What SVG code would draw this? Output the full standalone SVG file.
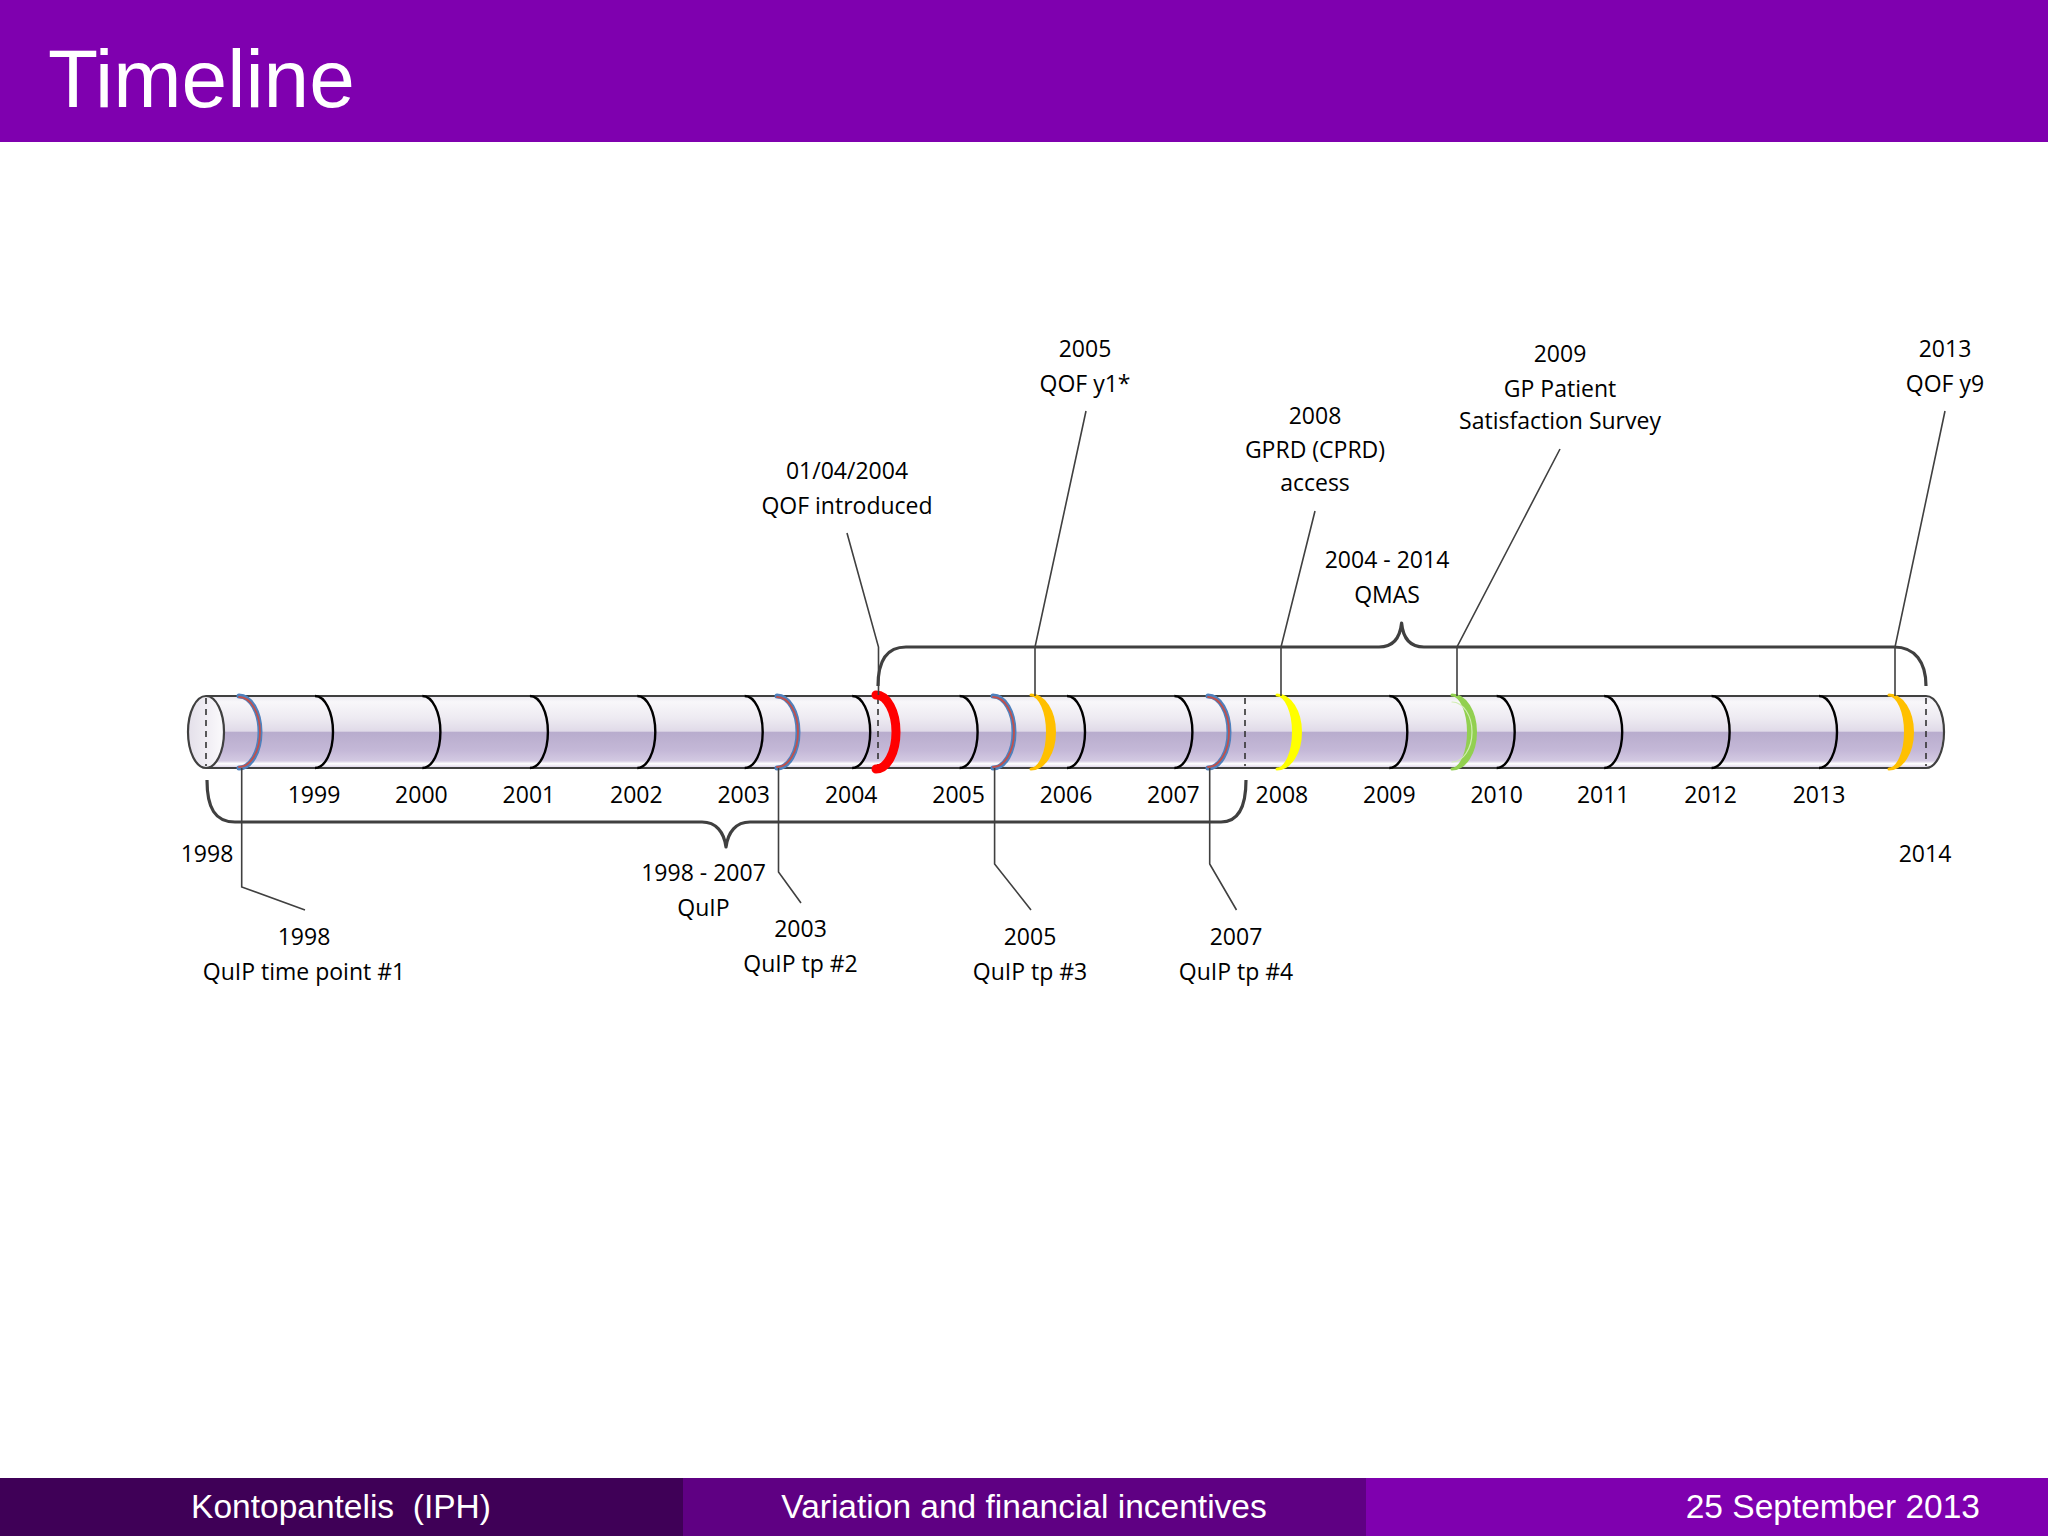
<svg xmlns="http://www.w3.org/2000/svg" width="2048" height="1536" viewBox="0 0 2048 1536">
<defs>
<linearGradient id="cyl" x1="0" y1="0" x2="0" y2="1">
<stop offset="0" stop-color="#E9E6EE"/>
<stop offset="0.08" stop-color="#F8F7FA"/>
<stop offset="0.3" stop-color="#EEEBF2"/>
<stop offset="0.49" stop-color="#E0DAE8"/>
<stop offset="0.5" stop-color="#B8ACCD"/>
<stop offset="0.75" stop-color="#C4B8D7"/>
<stop offset="0.9" stop-color="#D3C9E2"/>
<stop offset="0.94" stop-color="#FFFFFF"/>
<stop offset="1" stop-color="#D6CDE4"/>
</linearGradient>
<linearGradient id="cap" x1="0" y1="0" x2="1" y2="0">
<stop offset="0" stop-color="#E4E0EA"/>
<stop offset="1" stop-color="#FBFAFC"/>
</linearGradient>
<style>
text{font-family:"Open Sans","Liberation Sans",sans-serif;font-size:23px;fill:#000;text-anchor:middle}
.foot{font-family:"Liberation Sans",Arial,sans-serif;font-size:33.5px;fill:#fff}
.lead{fill:none;stroke:#404040;stroke-width:1.6}
.brace{fill:none;stroke:#404040;stroke-width:3.2;stroke-linejoin:round}
.yarc{fill:none;stroke:#000;stroke-width:2.4}
.dash{stroke:#333;stroke-width:1.6;stroke-dasharray:6 5}
.outline{stroke:#404040;stroke-width:2.2}
.mk{fill:none;stroke-linecap:round}
.cres{stroke-width:3;stroke-linejoin:round}
</style>
</defs>
<rect width="2048" height="1536" fill="#fff"/>
<!-- header -->
<rect x="0" y="0" width="2048" height="142" fill="#7F00AF"/>
<text x="48" y="107" style="font-family:'Liberation Sans',Arial,sans-serif;font-size:82px;fill:#fff;text-anchor:start">Timeline</text>

<!-- cylinder -->
<g id="cylinder">
<rect x="206" y="696" width="1720" height="72" fill="url(#cyl)"/>
<path d="M1925,696 A18,36 0 0 1 1925,768 Z" fill="url(#cyl)"/>
<path d="M1926,696 A18,36 0 0 1 1926,768" fill="none" class="outline"/>
<line x1="206" y1="696" x2="1926" y2="696" class="outline"/>
<line x1="206" y1="768" x2="1926" y2="768" class="outline"/>
<ellipse cx="206" cy="732" rx="18" ry="36" fill="url(#cap)" class="outline"/>
<line x1="206" y1="698" x2="206" y2="766" class="dash"/>
<line x1="1926" y1="698" x2="1926" y2="766" class="dash"/>
<line x1="878" y1="698" x2="878" y2="766" class="dash"/>
<line x1="1245" y1="698" x2="1245" y2="766" class="dash"/>
<!-- year arcs -->
<path class="yarc" d="M315,696 A18,36 0 0 1 315,768 M422.4,696 A18,36 0 0 1 422.4,768 M529.9,696 A18,36 0 0 1 529.9,768 M637.3,696 A18,36 0 0 1 637.3,768 M744.7,696 A18,36 0 0 1 744.7,768 M852.2,696 A18,36 0 0 1 852.2,768 M959.6,696 A18,36 0 0 1 959.6,768 M1067,696 A18,36 0 0 1 1067,768 M1174.4,696 A18,36 0 0 1 1174.4,768 M1389.3,696 A18,36 0 0 1 1389.3,768 M1496.7,696 A18,36 0 0 1 1496.7,768 M1604.2,696 A18,36 0 0 1 1604.2,768 M1711.6,696 A18,36 0 0 1 1711.6,768 M1819,696 A18,36 0 0 1 1819,768"/>
</g>

<!-- markers -->
<g id="markers">
<g id="m-quip1"><path class="mk" stroke="#4F81BD" stroke-width="5" d="M239,696 A21,36 0 0 1 239,768"/><path class="mk" stroke="#C0504D" stroke-width="1.8" d="M239,697 A21,35 0 0 1 239,767"/></g>
<g id="m-quip2"><path class="mk" stroke="#4F81BD" stroke-width="5" d="M777,696 A21,36 0 0 1 777,768"/><path class="mk" stroke="#C0504D" stroke-width="1.8" d="M777,697 A21,35 0 0 1 777,767"/></g>
<g id="m-quip3"><path class="mk" stroke="#4F81BD" stroke-width="5" d="M993,696 A21,36 0 0 1 993,768"/><path class="mk" stroke="#C0504D" stroke-width="1.8" d="M993,697 A21,35 0 0 1 993,767"/></g>
<g id="m-quip4"><path class="mk" stroke="#4F81BD" stroke-width="5" d="M1208,696 A21,36 0 0 1 1208,768"/><path class="mk" stroke="#C0504D" stroke-width="1.8" d="M1208,697 A21,35 0 0 1 1208,767"/></g>
<g id="m-qof"><path class="mk" stroke="#FF0000" stroke-width="9" d="M876,695 A20,37 0 0 1 876,769"/></g>
<g id="m-qofy1"><path class="cres" fill="#FFC000" stroke="#FFC000" d="M1031,695 A23.5,37 0 0 1 1031,769 A16.5,37 0 0 0 1031,695 Z"/></g>
<g id="m-gprd"><path class="cres" fill="#FFFF00" stroke="#FFFF00" d="M1277,695 A23.5,37 0 0 1 1277,769 A16.5,37 0 0 0 1277,695 Z"/></g>
<g id="m-gpss"><path class="cres" fill="#92D050" stroke="#92D050" d="M1452,695 A23.5,37 0 0 1 1452,769 A16.5,37 0 0 0 1452,695 Z"/><path class="mk" stroke="#D2EDB4" stroke-width="1.2" d="M1452,702 A20,30 0 0 1 1452,762"/></g>
<g id="m-qofy9"><path class="cres" fill="#FFC000" stroke="#FFC000" d="M1889,695 A23.5,37 0 0 1 1889,769 A16.5,37 0 0 0 1889,695 Z"/></g>
</g>

<!-- connectors -->
<g id="connectors">
<path class="brace" d="M878,686 C878,662 886,647 906,647 H1379 C1393,647 1400,638 1401.6,623 C1403,638 1410,647 1424,647 H1894 C1915,647 1926,662 1926,686"/>
<path class="brace" d="M207,780 C207,808 215,822 235,822 H702 C716,822 724,832 726,847 C728,832 736,822 750,822 H1221 C1238,822 1246,808 1246,780"/>
<path class="lead" d="M847,533 L878.5,647 L878.5,695"/>
<path class="lead" d="M1086,411 L1035,647 L1035,696"/>
<path class="lead" d="M1315,511 L1281,647 L1281,696"/>
<path class="lead" d="M1560,449 L1457,647 L1457,696"/>
<path class="lead" d="M1945,411 L1895,647 L1895,696"/>
<path class="lead" d="M241.7,768 L241.7,887 L305,910"/>
<path class="lead" d="M778.5,768 L778.5,872 L801,903"/>
<path class="lead" d="M994.6,768 L994.6,864 L1031,910"/>
<path class="lead" d="M1209.7,768 L1209.7,864 L1236.5,910"/>
</g>

<!-- year labels -->
<g id="years">
<text x="314" y="803">1999</text>
<text x="421.4" y="803">2000</text>
<text x="528.9" y="803">2001</text>
<text x="636.3" y="803">2002</text>
<text x="743.7" y="803">2003</text>
<text x="851.2" y="803">2004</text>
<text x="958.6" y="803">2005</text>
<text x="1066" y="803">2006</text>
<text x="1173.4" y="803">2007</text>
<text x="1281.9" y="803">2008</text>
<text x="1389.3" y="803">2009</text>
<text x="1496.7" y="803">2010</text>
<text x="1603.2" y="803">2011</text>
<text x="1710.6" y="803">2012</text>
<text x="1819" y="803">2013</text>
<text x="207" y="862">1998</text>
<text x="1925" y="862">2014</text>
</g>

<!-- top events -->
<g id="n-qof-introduced"><text x="847" y="479">01/04/2004</text><text x="847" y="514">QOF introduced</text></g>
<g id="n-qof-y1"><text x="1085" y="357">2005</text><text x="1085" y="392">QOF y1*</text></g>
<g id="n-gprd"><text x="1315" y="424">2008</text><text x="1315" y="458">GPRD (CPRD)</text><text x="1315" y="491">access</text></g>
<g id="n-qmas"><text x="1387" y="568">2004 - 2014</text><text x="1387" y="603">QMAS</text></g>
<g id="n-gpss"><text x="1560" y="362">2009</text><text x="1560" y="397">GP Patient</text><text x="1560" y="429">Satisfaction Survey</text></g>
<g id="n-qof-y9"><text x="1945" y="357">2013</text><text x="1945" y="392">QOF y9</text></g>

<!-- bottom events -->
<g id="n-quip"><text x="703.5" y="881">1998 - 2007</text><text x="703.5" y="916">QuIP</text></g>
<g id="n-quip-tp1"><text x="304" y="945">1998</text><text x="304" y="980">QuIP time point #1</text></g>
<g id="n-quip-tp2"><text x="800.5" y="937">2003</text><text x="800.5" y="972">QuIP tp #2</text></g>
<g id="n-quip-tp3"><text x="1030" y="945">2005</text><text x="1030" y="980">QuIP tp #3</text></g>
<g id="n-quip-tp4"><text x="1236" y="945">2007</text><text x="1236" y="980">QuIP tp #4</text></g>

<!-- footer -->
<g id="footer">
<rect x="0" y="1478" width="683" height="58" fill="#3F0057"/>
<rect x="683" y="1478" width="683" height="58" fill="#5F0083"/>
<rect x="1366" y="1478" width="682" height="58" fill="#7F00AF"/>
<text class="foot" x="341" y="1518" xml:space="preserve">Kontopantelis  (IPH)</text>
<text class="foot" x="1024" y="1518">Variation and financial incentives</text>
<text class="foot" x="1980" y="1518" style="text-anchor:end">25 September 2013</text>
</g>
</svg>
